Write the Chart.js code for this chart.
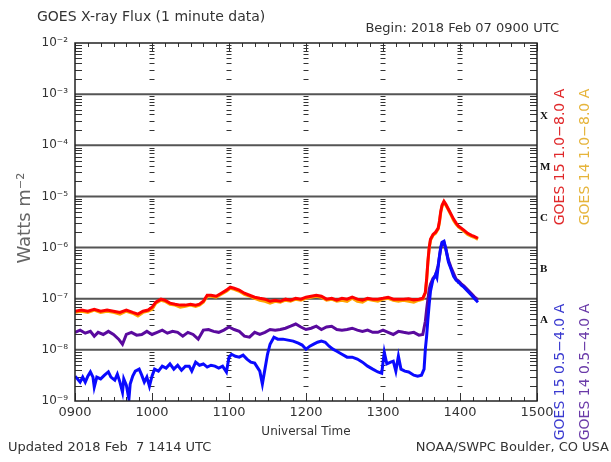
<!DOCTYPE html>
<html>
<head>
<meta charset="utf-8">
<script src="https://cdn.jsdelivr.net/npm/chart.js@4.4.1/dist/chart.umd.min.js"></script>
<style>
  html, body { margin:0; padding:0; background:#fff; }
  canvas { display:block; }
</style>
</head>
<body>
<canvas id="xrayChart" width="611" height="462"></canvas>
<script>
// minutes after 0900 UTC
const hourLabels = ['0900','1000','1100','1200','1300','1400','1500'];
const decades = [-9,-8,-7,-6,-5,-4,-3,-2];
const classLetters = ['A','B','C','M','X'];
const seriesNames = ['GOES 15 1.0\u22128.0 A','GOES 14 1.0\u22128.0 A','GOES 15 0.5\u22124.0 A','GOES 14 0.5\u22124.0 A'];

const longTime = [0,5,10,15,20,25,30,35,40,45,
    49,53,57,
    60,63,67,70,74,78,82,86,90,94,97,
    100,103,106,110,114,118,121,124,128,132,136,
    140,144,148,152,156,160,164,168,172,176,
    180,184,188,192,196,200,204,208,212,216,
    220,224,228,232,236,240,244,248,252,256,
    260,264,268,
    271,273,274,275,276,277,279,281,283,284,285,286,287.5,289,291,293,295,297,299,301,303,306,309,311,314];

const goes15Long = [5.7e-8,6.0e-8,5.7e-8,6.2e-8,5.7e-8,6.0e-8,5.7e-8,5.4e-8,6.0e-8,5.4e-8,
    5.0e-8,5.7e-8,6.0e-8,
    6.8e-8,8.55e-8,9.8e-8,9.35e-8,8.2e-8,7.8e-8,7.5e-8,7.5e-8,7.8e-8,7.5e-8,7.8e-8,
    8.9e-8,1.17e-7,1.17e-7,1.12e-7,1.28e-7,1.47e-7,1.68e-7,1.60e-7,1.47e-7,1.28e-7,1.17e-7,
    1.07e-7,1.02e-7,9.8e-8,8.9e-8,9.35e-8,8.9e-8,9.8e-8,9.35e-8,1.02e-7,9.8e-8,
    1.07e-7,1.12e-7,1.17e-7,1.12e-7,9.8e-8,1.02e-7,9.35e-8,1.02e-7,9.8e-8,1.07e-7,
    9.8e-8,9.35e-8,1.02e-7,9.8e-8,9.8e-8,1.02e-7,1.07e-7,9.8e-8,9.8e-8,9.8e-8,
    1.0e-7,9.5e-8,9.8e-8,
    1.02e-7,1.34e-7,2.4e-7,5.4e-7,1.01e-6,1.45e-6,1.8e-6,2.0e-6,2.4e-6,3.3e-6,5.1e-6,6.7e-6,8.0e-6,
    7.0e-6,5.6e-6,4.5e-6,3.6e-6,3.0e-6,2.6e-6,2.4e-6,2.2e-6,1.9e-6,1.74e-6,1.66e-6,1.52e-6];

const goes14Long = [5.4e-8,5.7e-8,5.4e-8,6.0e-8,5.4e-8,5.7e-8,5.4e-8,5.0e-8,5.7e-8,5.2e-8,
    4.6e-8,5.4e-8,5.7e-8,
    6.2e-8,8.2e-8,9.35e-8,8.9e-8,7.8e-8,7.5e-8,6.8e-8,7.1e-8,7.5e-8,7.1e-8,7.5e-8,
    8.55e-8,1.12e-7,1.12e-7,1.07e-7,1.22e-7,1.40e-7,1.60e-7,1.53e-7,1.40e-7,1.22e-7,1.12e-7,
    1.02e-7,9.35e-8,8.9e-8,8.2e-8,8.9e-8,8.55e-8,9.35e-8,8.9e-8,9.8e-8,9.35e-8,
    1.02e-7,1.07e-7,1.12e-7,1.07e-7,9.35e-8,9.8e-8,8.9e-8,9.35e-8,8.9e-8,1.02e-7,
    8.9e-8,8.55e-8,9.8e-8,9.35e-8,8.9e-8,9.8e-8,1.02e-7,9.35e-8,8.9e-8,9.35e-8,
    8.9e-8,8.55e-8,9.35e-8,
    9.8e-8,1.28e-7,2.3e-7,5.2e-7,9.7e-7,1.39e-6,1.74e-6,1.9e-6,2.3e-6,3.1e-6,4.9e-6,6.4e-6,7.7e-6,
    6.7e-6,5.4e-6,4.3e-6,3.4e-6,2.85e-6,2.5e-6,2.3e-6,2.1e-6,1.8e-6,1.66e-6,1.59e-6,1.45e-6];

const shortTime15 = [0,2,4,6,8,10,12,14,15,17,
    20,23,26,28,31,33,35,37,38,40,
    42,43,45,47,50,52,54,56,58,60,
    62,65,68,71,74,77,80,83,86,89,
    91,94,97,100,103,106,109,112,115,118,
    120,122,125,128,131,134,137,140,142,144,
    146,148,150,152,155,158,162,166,170,174,
    177,180,183,186,189,192,195,198,201,204,
    208,212,216,220,224,228,232,236,239,241,
    243,246,248,250,252,254,257,260,264,267,
    270,272,273,274,275,276,277,279,280,281,
    282,283,284,285,286,287.5,289,291,293,295,
    297,299,301,303,306,309,311,314];

const goes15Short = [3.06e-9,2.7e-9,2.34e-9,2.93e-9,2.34e-9,3.06e-9,3.7e-9,2.93e-9,1.87e-9,2.93e-9,
    2.7e-9,3.2e-9,3.7e-9,2.93e-9,2.56e-9,3.35e-9,2.34e-9,1.49e-9,2.7e-9,2.05e-9,
    1.09e-9,2.14e-9,3.06e-9,3.84e-9,4.2e-9,3.2e-9,2.34e-9,2.93e-9,1.95e-9,3.06e-9,
    4.2e-9,3.84e-9,4.8e-9,4.4e-9,5.3e-9,4.2e-9,5.0e-9,4.0e-9,4.8e-9,4.8e-9,
    3.84e-9,5.75e-9,5.0e-9,5.3e-9,4.6e-9,5.0e-9,4.8e-9,4.4e-9,4.8e-9,3.7e-9,
    7.2e-9,8.2e-9,7.5e-9,7.2e-9,7.9e-9,6.6e-9,5.75e-9,5.5e-9,4.6e-9,3.84e-9,
    2.14e-9,4.2e-9,8.2e-9,1.29e-8,1.77e-8,1.62e-8,1.62e-8,1.55e-8,1.48e-8,1.35e-8,
    1.24e-8,1.03e-8,1.18e-8,1.29e-8,1.41e-8,1.48e-8,1.41e-8,1.18e-8,1.03e-8,9.4e-9,
    8.2e-9,7.2e-9,7.2e-9,6.6e-9,5.75e-9,4.8e-9,4.2e-9,3.7e-9,3.5e-9,9.0e-9,
    5.3e-9,5.75e-9,6.0e-9,3.84e-9,7.5e-9,4.2e-9,3.84e-9,3.7e-9,3.2e-9,3.06e-9,
    3.2e-9,4.2e-9,1.03e-8,1.85e-8,4.0e-8,7.8e-8,1.4e-7,2.4e-7,2.6e-7,3.0e-7,
    2.6e-7,4.3e-7,6.8e-7,1.01e-6,1.27e-6,1.33e-6,9.3e-7,5.2e-7,3.8e-7,2.75e-7,
    2.3e-7,2.1e-7,1.84e-7,1.68e-7,1.4e-7,1.17e-7,1.02e-7,8.55e-8];

const shortTime14 = [0,4,8,12,15,18,22,26,30,34,
    37,40,44,48,52,56,60,64,68,72,
    76,80,84,88,92,96,100,104,108,112,
    116,120,124,128,132,136,140,144,148,152,
    156,160,164,168,172,176,180,184,188,192,
    196,200,204,208,212,216,220,224,228,232,
    236,240,244,248,252,256,260,264,268,271,
    273,274,275,276,277,279,281,283,285,286,
    287.5,289,291,293,295,297,299,301,303,306,
    309,311,314];

const goes14Short = [2.2e-8,2.43e-8,2.12e-8,2.3e-8,1.85e-8,2.2e-8,2.0e-8,2.3e-8,2.0e-8,1.62e-8,
    1.29e-8,2.0e-8,2.2e-8,1.94e-8,2.0e-8,2.3e-8,2.0e-8,2.2e-8,2.43e-8,2.12e-8,
    2.3e-8,2.2e-8,1.85e-8,2.2e-8,2.0e-8,1.62e-8,2.43e-8,2.5e-8,2.3e-8,2.2e-8,
    2.43e-8,2.8e-8,2.5e-8,2.3e-8,1.85e-8,1.77e-8,2.2e-8,2.0e-8,2.2e-8,2.5e-8,
    2.43e-8,2.5e-8,2.65e-8,2.9e-8,3.2e-8,2.8e-8,2.5e-8,2.65e-8,2.9e-8,2.5e-8,
    2.8e-8,2.9e-8,2.5e-8,2.43e-8,2.5e-8,2.65e-8,2.43e-8,2.3e-8,2.43e-8,2.2e-8,
    2.2e-8,2.43e-8,2.2e-8,2.0e-8,2.3e-8,2.2e-8,2.12e-8,2.2e-8,1.94e-8,2.0e-8,
    3.64e-8,6.2e-8,9.8e-8,1.53e-7,1.92e-7,2.5e-7,2.88e-7,4.5e-7,9.7e-7,1.21e-6,
    1.27e-6,9.3e-7,5.65e-7,4.1e-7,3.15e-7,2.4e-7,2.2e-7,1.95e-7,1.78e-7,1.5e-7,
    1.25e-7,1.1e-7,9.5e-8];

document.addEventListener('DOMContentLoaded', function() {

    const FONT = '"DejaVu Sans", sans-serif';
    const sup = {'-':'\u207B','0':'\u2070','1':'\u00B9','2':'\u00B2','3':'\u00B3','4':'\u2074','5':'\u2075','6':'\u2076','7':'\u2077','8':'\u2078','9':'\u2079'};
    function powerLabel(v){
        const e = String(Math.round(Math.log10(v)));
        return '10' + e.split('').map(c => sup[c]).join('');
    }
    function pts(t, v){ return t.map((x,i) => ({x:x, y:v[i]})); }

    // ------------------ frame, grid, ticks and text ------------------
    const decor = {
        id:'decor',
        beforeDatasetsDraw(chart){
            const ctx = chart.ctx, a = chart.chartArea, xs = chart.scales.x, ys = chart.scales.y;
            ctx.save();
            // decade lines
            ctx.strokeStyle = '#555'; ctx.lineWidth = 2;
            decades.slice(1,-1).forEach(e => {
                const py = ys.getPixelForValue(Math.pow(10,e));
                ctx.beginPath(); ctx.moveTo(a.left, py); ctx.lineTo(a.right, py); ctx.stroke();
            });
            // minor log ticks on axes and on each hour
            ctx.strokeStyle = '#333'; ctx.lineWidth = 1;
            const hours = [60,120,180,240,300];
            for (let e = -9; e < -2; e++){
                for (let m = 2; m <= 9; m++){
                    const py = Math.round(ys.getPixelForValue(m*Math.pow(10,e))) + 0.5;
                    ctx.beginPath();
                    ctx.moveTo(a.left, py); ctx.lineTo(a.left+7, py);
                    ctx.moveTo(a.right-7, py); ctx.lineTo(a.right, py);
                    hours.forEach(h => {
                        const px = xs.getPixelForValue(h);
                        ctx.moveTo(px-2.5, py); ctx.lineTo(px+2.5, py);
                    });
                    ctx.stroke();
                }
            }
            // time ticks top and bottom
            for (let t = 0; t <= 360; t += 10){
                const px = Math.round(xs.getPixelForValue(t)) + 0.5;
                const len = t % 60 === 0 ? 8 : 4;
                ctx.beginPath();
                ctx.moveTo(px, a.bottom); ctx.lineTo(px, a.bottom-len);
                ctx.moveTo(px, a.top); ctx.lineTo(px, a.top+len);
                ctx.stroke();
            }
            ctx.restore();
        },
        afterDraw(chart){
            const ctx = chart.ctx, a = chart.chartArea, ys = chart.scales.y;
            ctx.save();
            ctx.strokeStyle = '#222'; ctx.lineWidth = 1.5;
            ctx.strokeRect(a.left, a.top, a.right-a.left, a.bottom-a.top);

            ctx.fillStyle = '#333';
            ctx.textBaseline = 'middle';
            ctx.font = '14px ' + FONT; ctx.textAlign = 'left';
            ctx.fillText('GOES X-ray Flux (1 minute data)', 37, 17);
            ctx.font = '13px ' + FONT; ctx.textAlign = 'right';
            ctx.fillText('Begin: 2018 Feb 07 0900 UTC', 559, 29);
            ctx.font = '12px ' + FONT; ctx.textAlign = 'center';
            ctx.fillText('Universal Time', (a.left+a.right)/2, 432);
            ctx.font = '13px ' + FONT; ctx.textAlign = 'left';
            ctx.fillText('Updated 2018 Feb  7 1414 UTC', 8, 448);
            ctx.textAlign = 'right';
            ctx.fillText('NOAA/SWPC Boulder, CO USA', 609, 448);

            // y axis title
            ctx.save();
            ctx.translate(25, 218); ctx.rotate(-Math.PI/2);
            ctx.fillStyle = '#666'; ctx.font = '18px ' + FONT; ctx.textAlign = 'center';
            ctx.fillText('Watts m\u207B\u00B2', 0, 0);
            ctx.restore();

            // flare classes
            ctx.fillStyle = '#111'; ctx.font = 'bold 11px "Liberation Serif", serif'; ctx.textAlign = 'left';
            classLetters.forEach((c,i) => {
                const py = ys.getPixelForValue(Math.pow(10, -7.5 + i));
                ctx.fillText(c, a.right + 3, py - 4);
            });

            // rotated series labels
            const labelPos = [[560,157,'#e0282a'],[585,157,'#e6b43a'],[560,372,'#3a3ad0'],[585,372,'#6a3aa8']];
            ctx.font = '14px ' + FONT; ctx.textAlign = 'center';
            seriesNames.forEach((s,i) => {
                ctx.save();
                ctx.translate(labelPos[i][0], labelPos[i][1]); ctx.rotate(-Math.PI/2);
                ctx.fillStyle = labelPos[i][2];
                ctx.fillText(s, 0, 0);
                ctx.restore();
            });
            ctx.restore();
        }
    };

    // ------------------ X-ray flux chart ------------------
    const ctx = document.getElementById('xrayChart').getContext('2d');
    new Chart(ctx, {
        type:'line',
        data:{
            datasets:[
                { label:seriesNames[0], data:pts(longTime, goes15Long), borderColor:'#ff0000' },
                { label:seriesNames[2], data:pts(shortTime15, goes15Short), borderColor:'#0a0aff' },
                { label:seriesNames[3], data:pts(shortTime14, goes14Short), borderColor:'#5a0a9e' },
                { label:seriesNames[1], data:pts(longTime, goes14Long), borderColor:'#ffa500' }
            ]
        },
        options:{
            responsive:false,
            animation:false,
            devicePixelRatio:1,
            layout:{ padding:{ top:43, right:74, bottom:0, left:0 } },
            elements:{
                line:{ borderWidth:3, tension:0, fill:false },
                point:{ radius:0, hoverRadius:0 }
            },
            plugins:{ legend:{display:false}, tooltip:{enabled:false} },
            scales:{
                x:{
                    type:'linear', min:0, max:360,
                    grid:{ display:false, drawTicks:false },
                    border:{ display:false },
                    afterBuildTicks: s => { s.ticks = hourLabels.map((_,i) => ({value:i*60})); },
                    afterFit: s => { s.height = 61; },
                    ticks:{
                        padding:4, maxRotation:0, autoSkip:false,
                        color:'#333', font:{ family:FONT, size:13 },
                        callback: v => hourLabels[Math.round(v/60)]
                    }
                },
                y:{
                    type:'logarithmic', min:1e-9, max:1e-2,
                    grid:{ display:false, drawTicks:false },
                    border:{ display:false },
                    afterBuildTicks: s => { s.ticks = decades.map(e => ({value:Math.pow(10,e)})); },
                    afterFit: s => { s.width = 75; },
                    ticks:{
                        padding:7, autoSkip:false,
                        color:'#333', font:{ family:FONT, size:12 },
                        callback: v => powerLabel(v)
                    }
                }
            }
        },
        plugins:[decor]
    });

});
</script>
</body>
</html>
